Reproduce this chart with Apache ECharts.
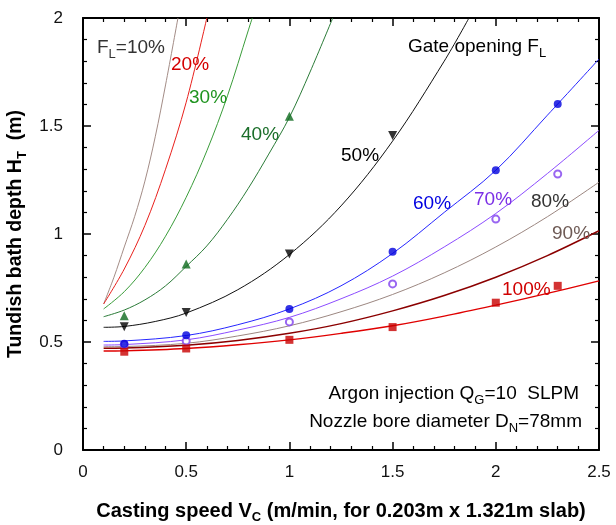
<!DOCTYPE html>
<html><head><meta charset="utf-8">
<script src="https://cdn.jsdelivr.net/npm/echarts@6/dist/echarts.min.js"></script>
<style>html,body{margin:0;padding:0;background:#fff}#c{width:616px;height:525px}</style>
</head><body><div id="c"></div>
<script>
// ---- data ----
const curve10  = [[0.1,0.676],[0.15,0.80],[0.2,0.94],[0.25,1.08],[0.3,1.245],[0.35,1.45],[0.4,1.69],[0.46,2.0]];
const curve20  = [[0.1,0.676],[0.2,0.838],[0.3,1.04],[0.4,1.30],[0.5,1.61],[0.6,2.0]];
const curve30  = [[0.1,0.653],[0.2,0.733],[0.3,0.845],[0.4,0.99],[0.5,1.17],[0.6,1.385],[0.7,1.64],[0.8,1.94],[0.82,2.0]];
const curve40  = [[0.1,0.617],[0.2,0.648],[0.3,0.695],[0.4,0.76],[0.5,0.85],[0.6,0.945],[0.7,1.068],[0.8,1.21],[0.9,1.37],[1.0,1.54],[1.1,1.75],[1.21,2.0]];
const curve50  = [[0.1,0.568],[0.2,0.572],[0.35,0.595],[0.5,0.634],[0.75,0.742],[1.0,0.905],[1.25,1.13],[1.5,1.43],[1.75,1.80],[1.87,2.0]];
const curve60  = [[0.1,0.503],[0.2,0.505],[0.5,0.53],[0.75,0.58],[1.0,0.653],[1.25,0.76],[1.5,0.91],[1.75,1.10],[2.0,1.295],[2.25,1.55],[2.5,1.81]];
const curve70  = [[0.1,0.486],[0.2,0.488],[0.5,0.51],[0.75,0.555],[1.0,0.614],[1.25,0.70],[1.5,0.805],[1.75,0.94],[2.0,1.095],[2.25,1.28],[2.5,1.48]];
const curve80  = [[0.1,0.478],[0.2,0.479],[0.5,0.494],[0.75,0.528],[1.0,0.575],[1.25,0.64],[1.5,0.72],[1.75,0.82],[2.0,0.94],[2.25,1.08],[2.5,1.24]];
const curve90  = [[0.1,0.471],[0.2,0.472],[0.5,0.485],[0.75,0.507],[1.0,0.54],[1.25,0.585],[1.5,0.644],[1.75,0.715],[2.0,0.80],[2.25,0.90],[2.5,1.015]];
const curve100 = [[0.1,0.458],[0.2,0.459],[0.5,0.47],[0.75,0.487],[1.0,0.51],[1.25,0.54],[1.5,0.575],[1.75,0.62],[2.0,0.671],[2.25,0.725],[2.5,0.783]];

const pts40  = [[0.2,0.622],[0.5,0.861],[1.0,1.545]];
const pts50  = [[0.2,0.571],[0.5,0.636],[1.0,0.907],[1.5,1.456]];
const pts60  = [[0.2,0.492],[0.5,0.531],[1.0,0.653],[1.5,0.918],[2.0,1.295],[2.3,1.602]];
const pts70  = [[0.2,0.488],[0.5,0.505],[1.0,0.593],[1.5,0.769],[2.0,1.069],[2.3,1.278]];
const pts100 = [[0.2,0.455],[0.5,0.47],[1.0,0.51],[1.5,0.569],[2.0,0.682],[2.3,0.76]];

const xRange = [0, 2.5, 0.5];
const yRange = [0, 2, 0.5];

// ---- styling ----
const FONT = '"Liberation Sans", Arial, Helvetica, sans-serif';
const lineDefs = [
  [curve10,  '#a38c86', 1],
  [curve20,  '#e8201c', 1],
  [curve30,  '#3a9c3a', 1],
  [curve40,  '#2b7b38', 1],
  [curve50,  '#111111', 1],
  [curve60,  '#2626ff', 1],
  [curve70,  '#8c4cff', 1],
  [curve80,  '#9c8781', 1],
  [curve90,  '#8b0000', 1.5],
  [curve100, '#e00000', 1.4]
];
const series = lineDefs.map(([d,c,w]) => ({
  type:'line', data:d, smooth:0.35, showSymbol:false, symbol:'none', clip:true,
  lineStyle:{color:c, width:w}, z:2, silent:true
}));
series.push(
  {type:'scatter', data:pts40, symbol:'triangle', symbolSize:9, itemStyle:{color:'#0e6a1e'}, z:3},
  {type:'scatter', data:pts50, symbol:'triangle', symbolRotate:180, symbolSize:9, itemStyle:{color:'#000'}, z:3},
  {type:'scatter', data:pts70, symbol:'emptyCircle', symbolSize:7, itemStyle:{color:'#8040ee', borderWidth:1.2}, z:3},
  {type:'scatter', data:pts60, symbol:'circle', symbolSize:8, itemStyle:{color:'#0000dd'}, z:4},
  {type:'scatter', data:pts100, symbol:'rect', symbolSize:8, itemStyle:{color:'#c80000'}, z:3}
);

function axisBase(pos, r, showLabel){
  return {
    type:'value', position:pos, min:r[0], max:r[1], interval:r[2],
    axisLine:{show:true, onZero:false, lineStyle:{color:'#000', width:2}},
    axisTick:{show:true, inside:true, length:8, lineStyle:{color:'#000', width:1.5}},
    minorTick:{show:true, splitNumber:5, length:4, lineStyle:{color:'#000', width:1.2}},
    splitLine:{show:false}, minorSplitLine:{show:false},
    axisLabel:{show:showLabel, fontSize:17, color:'#111', fontFamily:FONT, margin:14},
    silent:true
  };
}
const xMain = axisBase('bottom', xRange, true);
xMain.name = '{b|Casting speed V}{s|C}{b| (m/min, for 0.203m x 1.321m slab)}';
xMain.nameLocation = 'middle'; xMain.nameGap = 48;
xMain.nameTextStyle = {rich:{
  b:{fontSize:20, fontWeight:'bold', fontFamily:FONT, color:'#000', lineHeight:26},
  s:{fontSize:13, fontWeight:'bold', fontFamily:FONT, color:'#000', lineHeight:14, verticalAlign:'bottom'}
}};
const yMain = axisBase('left', yRange, true);
yMain.axisLabel.margin = 20;
yMain.name = '{b|Tundish bath depth H}{s|T}{b|  (m)}';
yMain.nameLocation = 'middle'; yMain.nameGap = 44;
yMain.nameTextStyle = {rich:{
  b:{fontSize:19.5, fontWeight:'bold', fontFamily:FONT, color:'#000', lineHeight:26},
  s:{fontSize:13, fontWeight:'bold', fontFamily:FONT, color:'#000', lineHeight:14, verticalAlign:'bottom'}
}};
const xTop = axisBase('top', xRange, false);
const yRight = axisBase('right', yRange, false);

function lbl(x, y, text, color, align){
  return {type:'text', x:x, y:y, silent:true, z:10, style:{
    text:text, fill:color, font:'19px '+FONT, align:align||'left', verticalAlign:'middle',
    rich:{
      a:{fontSize:19, fontFamily:FONT, fill:color, lineHeight:26},
      s:{fontSize:13, fontFamily:FONT, fill:color, lineHeight:14, verticalAlign:'bottom'}
    }
  }};
}
const graphic = [
  lbl(97, 48, '{a|F}{s|L}{a|=10%}', '#333'),
  lbl(171, 65, '{a|20%}', '#d40000'),
  lbl(189, 98, '{a|30%}', '#1f941f'),
  lbl(241, 135, '{a|40%}', '#1b6e2a'),
  lbl(341, 156, '{a|50%}', '#000'),
  lbl(408, 47, '{a|Gate opening F}{s|L}', '#000'),
  lbl(413, 204, '{a|60%}', '#0000e0'),
  lbl(474, 200, '{a|70%}', '#7b2fe6'),
  lbl(531, 202, '{a|80%}', '#333'),
  lbl(552, 234, '{a|90%}', '#6e5a55'),
  lbl(502, 290, '{a|100%}', '#d00000'),
  lbl(579, 394, '{a|Argon injection Q}{s|G}{a|=10  SLPM}', '#000', 'right'),
  lbl(582, 422, '{a|Nozzle bore diameter D}{s|N}{a|=78mm}', '#000', 'right')
];

const chart = echarts.init(document.getElementById('c'), null, {renderer:'canvas'});
chart.setOption({
  animation:false,
  backgroundColor:'#fff',
  grid:{left:83, right:17, top:18, bottom:75, containLabel:false, outerBoundsMode:'none'},
  xAxis:[xMain, xTop],
  yAxis:[yMain, yRight],
  series:series,
  graphic:graphic
});
</script></body></html>
